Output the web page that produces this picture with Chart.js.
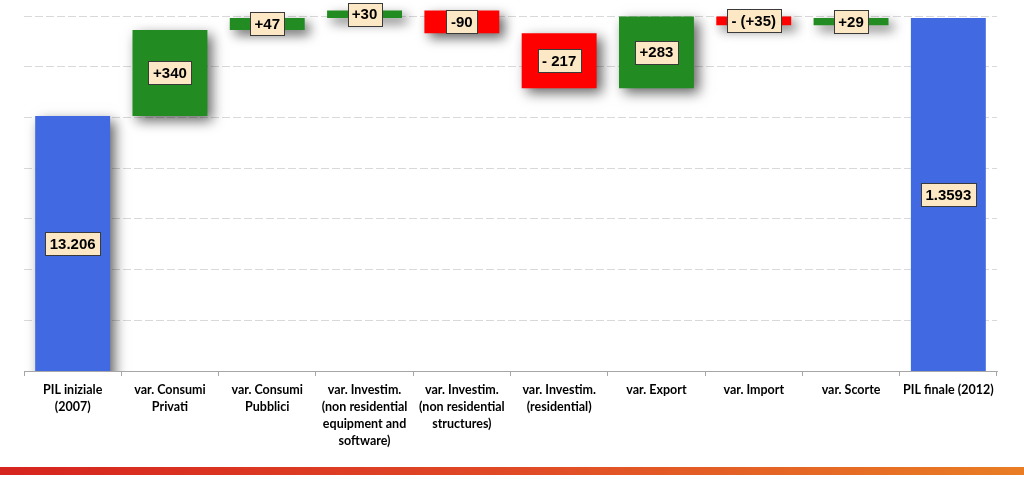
<!DOCTYPE html>
<html>
<head>
<meta charset="utf-8">
<script src="https://cdn.jsdelivr.net/npm/chart.js@4/dist/chart.umd.min.js"></script>
<style>
  html, body { margin: 0; padding: 0; background: #fff; }
  #wrap { position: relative; width: 1024px; height: 479px; }
  #stripe { position: absolute; left: 0; top: 467px; width: 1024px; height: 8px;
    background: linear-gradient(to right, #d6241e, #e04a26 50%, #e97d24); }
</style>
</head>
<body>
<div id="wrap">
  <canvas id="myChart" width="1024" height="479"></canvas>
  <div id="stripe"></div>
</div>
<script>
  const categories = [
    ['PIL iniziale', '(2007)'],
    ['var. Consumi', 'Privati'],
    ['var. Consumi', 'Pubblici'],
    ['var. Investim.', '(non residential', 'equipment and', 'software)'],
    ['var. Investim.', '(non residential', 'structures)'],
    ['var. Investim.', '(residential)'],
    ['var. Export'],
    ['var. Import'],
    ['var. Scorte'],
    ['PIL finale (2012)']
  ];
  // floating bars: where each bar starts and ends
  const barStart = [0, 13206, 13546, 13593, 13623, 13533, 13316, 13599, 13564, 0];
  const barEnd = [13206, 13546, 13593, 13623, 13533, 13316, 13599, 13564, 13593, 13593];
  const valueLabels = ['13.206', '+340', '+47', '+30', '-90', '- 217', '+283', '- (+35)', '+29', '1.3593'];
  const barColors = ['#4169E1', '#228B22', '#228B22', '#228B22', '#FF0000', '#FF0000', '#228B22', '#FF0000', '#228B22', '#4169E1'];

  const last = categories.length - 1;

  const shadowPlugin = {
    id: 'shadow',
    beforeDatasetDraw(chart, args) {
      if (args.index !== 0) return;
      const c = chart.ctx;
      c.save();
      c.shadowColor = 'rgba(0,0,0,0.6)';
      c.shadowBlur = 12;
      c.shadowOffsetX = 5;
      c.shadowOffsetY = 5;
    },
    afterDatasetDraw(chart, args) {
      if (args.index === 0) chart.ctx.restore();
    }
  };

  const labelPlugin = {
    id: 'boxLabels',
    afterDatasetsDraw(chart) {
      const c = chart.ctx;
      c.save();
      c.font = 'bold 15px "Liberation Sans", Arial, sans-serif';
      c.textAlign = 'center';
      c.textBaseline = 'middle';
      chart.data.datasets.forEach((ds, di) => {
        chart.getDatasetMeta(di).data.forEach((el, i) => {
          if (ds.data[i] == null) return;
          const base = Math.min(el.base, chart.chartArea.bottom);
          const cy = (el.y + base) / 2;
          const txt = valueLabels[i];
          const w = Math.round(c.measureText(txt).width + 9);
          const h = 23;
          const bx = Math.round(el.x - w / 2) + 0.5;
          const by = Math.round(cy - h / 2) + 0.5;
          c.fillStyle = '#FDE8C6';
          c.fillRect(bx, by, w, h);
          c.strokeStyle = '#3a3a3a';
          c.lineWidth = 1;
          c.strokeRect(bx, by, w, h);
          c.fillStyle = '#000';
          c.fillText(txt, el.x, cy + 1);
        });
      });
      c.restore();
    }
  };

  const ctx = document.getElementById('myChart').getContext('2d');
  const myChart = new Chart(ctx, {
    type: 'bar',
    data: {
      labels: categories,
      datasets: [{
        data: categories.map((c, i) => i < last ? [barStart[i], barEnd[i]] : null),
        backgroundColor: barColors,
        grouped: false,
        barPercentage: 0.77,
        categoryPercentage: 1
      }, {
        data: categories.map((c, i) => i === last ? [barStart[i], barEnd[i]] : null),
        backgroundColor: barColors,
        grouped: false,
        barPercentage: 0.77,
        categoryPercentage: 1
      }]
    },
    options: {
      responsive: false,
      animation: false,
      layout: { padding: { left: 24, right: 27, top: 1, bottom: 24 } },
      plugins: {
        legend: { display: false },
        tooltip: { enabled: false }
      },
      scales: {
        x: {
          grid: { drawOnChartArea: false, drawTicks: true, tickLength: 5, color: '#a6a6a6' },
          border: { color: '#a6a6a6' },
          ticks: {
            autoSkip: false, maxRotation: 0, color: '#000', padding: 5,
            font: { family: 'Lato', weight: 'bold', size: 12.5, lineHeight: 1.38 }
          }
        },
        y: {
          min: 12200,
          max: 13660,
          ticks: { display: false, stepSize: 200 },
          grid: {
            drawTicks: false,
            color: (c) => (c.tick && c.tick.value % 200 === 0) ? '#d9d9d9' : 'rgba(0,0,0,0)'
          },
          border: { display: false, dash: [8, 3] }
        }
      }
    },
    plugins: [shadowPlugin, labelPlugin]
  });
</script>
</body>
</html>
